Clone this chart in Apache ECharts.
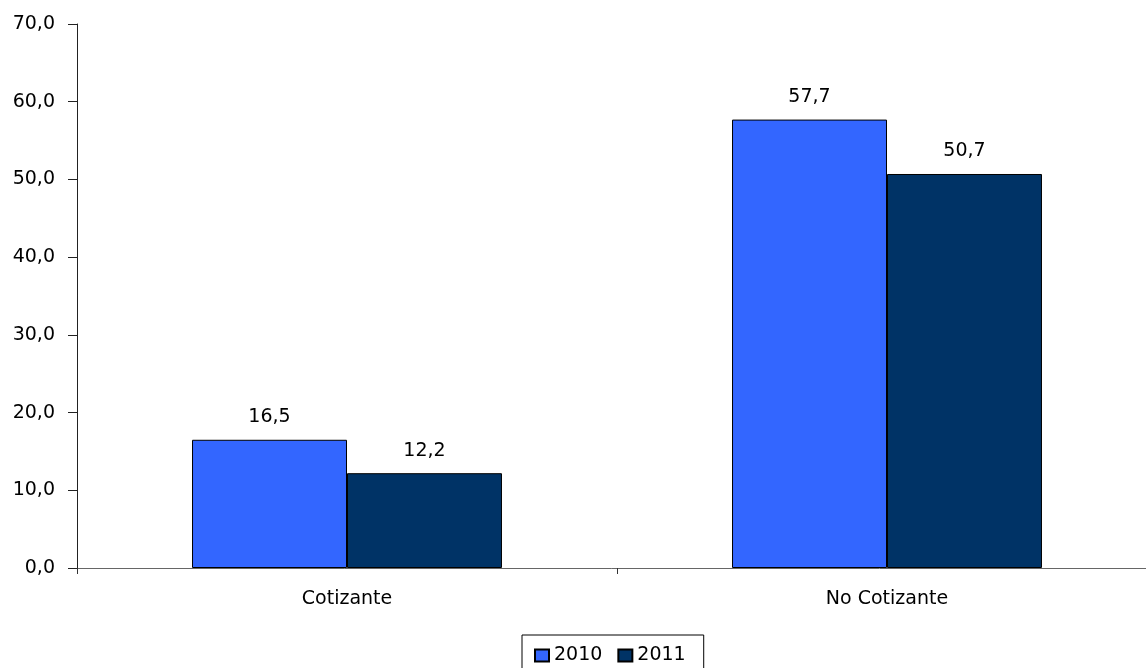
<!DOCTYPE html>
<html><head><meta charset="utf-8">
<script src="https://cdn.jsdelivr.net/npm/echarts@6/dist/echarts.min.js"></script>
<style>html,body{margin:0;padding:0;background:#fff}#c{width:1146px;height:668px}</style>
</head><body><div id="c"></div>
<script>
var categories = ['Cotizante', 'No Cotizante'];
var seriesNames = ['2010', '2011'];
var values2010 = [16.5, 57.7];
var values2011 = [12.2, 50.7];
var colors = ['#3366FF', '#003366'];

function fmt(v){ return Number(v).toFixed(1).replace('.', ','); }

var chart = echarts.init(document.getElementById('c'));
var font = 'DejaVu Sans, Liberation Sans, Arial, sans-serif';
chart.setOption({
  animation: false,
  textStyle: {fontFamily: font},
  grid: {left: 77, width: 1080, top: 24, height: 544, outerBoundsMode: 'none', containLabel: false},
  legend: {
    data: seriesNames, left: 522, top: 635,
    itemWidth: 14, itemHeight: 12, itemGap: 15,
    padding: [11, 18, 10, 12], borderColor: '#000', borderWidth: 1,
    textStyle: {fontSize: 19, color: '#000', fontFamily: font},
    icon: 'rect'
  },
  xAxis: {
    type: 'category', data: categories,
    axisLine: {lineStyle: {color: '#666', width: 1}},
    axisTick: {show: true, length: 6, lineStyle: {color: '#333'}},
    axisLabel: {fontSize: 19, color: '#000', margin: 22, fontFamily: font}
  },
  yAxis: {
    type: 'value', min: 0, max: 70, interval: 10,
    axisLine: {show: true, lineStyle: {color: '#222', width: 1}},
    axisTick: {show: true, length: 9, lineStyle: {color: '#222'}},
    splitLine: {show: false},
    axisLabel: {fontSize: 19, color: '#000', margin: 22, fontFamily: font, formatter: fmt}
  },
  series: [
    {name: seriesNames[0], type: 'bar', data: values2010, barGap: '0%', barCategoryGap: '42.6%',
     itemStyle: {color: colors[0], borderColor: '#000', borderWidth: 1},
     label: {show: true, position: 'top', distance: 13, fontSize: 19, color: '#000', fontFamily: font, formatter: function(p){return fmt(p.value);}}},
    {name: seriesNames[1], type: 'bar', data: values2011, barGap: '0%', barCategoryGap: '42.6%',
     itemStyle: {color: colors[1], borderColor: '#000', borderWidth: 1},
     label: {show: true, position: 'top', distance: 13, fontSize: 19, color: '#000', fontFamily: font, formatter: function(p){return fmt(p.value);}}}
  ]
});
</script></body></html>
